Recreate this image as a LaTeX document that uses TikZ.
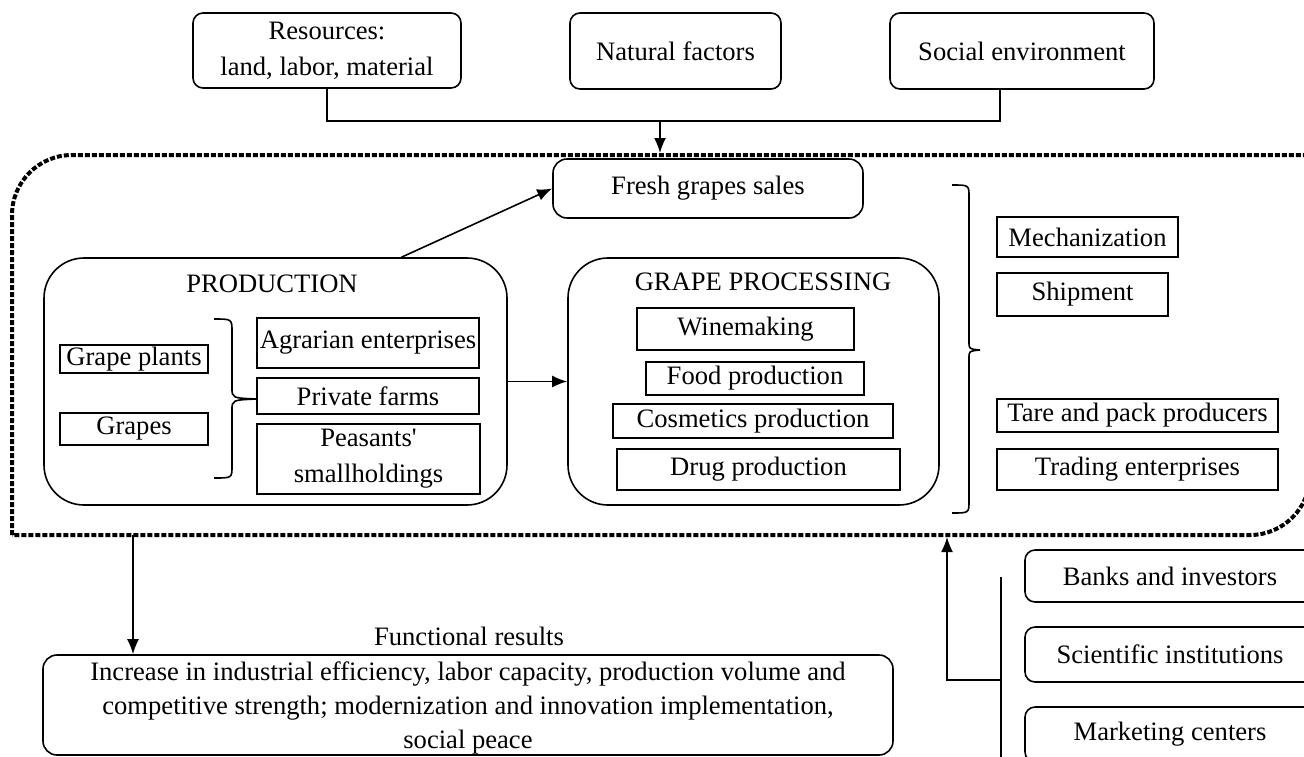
\documentclass[tikz,border=0pt]{standalone}
\usepackage{fontspec}
\setmainfont{Liberation Serif}
\usetikzlibrary{arrows.meta,calc,positioning}

\begin{document}
\begin{tikzpicture}[x=0.5pt, y=-0.5pt, >={Latex[length=7.5pt,width=6pt]},
    font=\fontsize{13.3pt}{18pt}\selectfont, line width=0.8pt,
    rbox/.style={draw, rounded corners=5pt, inner sep=0pt, align=center},
    sbox/.style={draw, inner sep=0pt, align=center},
    bigbox/.style={draw, rounded corners=20pt, inner sep=0pt},
    boundary/.style={line width=2pt, dash pattern=on 2.5pt off 1pt}]

\useasboundingbox (0,0) rectangle (1304,756);
\clip (0,0) rectangle (1304,756);

% ==================== FACTORS (top row) ====================
\node[rbox, minimum width=134pt, minimum height=37.5pt] (res) at (327,50.5) {Resources:\\land, labor, material};
\node[rbox, minimum width=105.5pt, minimum height=38pt] (nat) at (675.5,51) {Natural factors};
\node[rbox, minimum width=132pt, minimum height=38pt] (soc) at (1022,51) {Social environment};

\coordinate (junction) at (660,121);
\coordinate (entry) at (660,153);
\draw (res.south) |- (junction) -| ([xshift=-11pt]soc.south);
\draw[->] (junction) -- (entry);

% ==================== CLUSTER (dotted frame) ====================
\draw[boundary] (12,535) -- (12,300) [rounded corners=30pt] -- (12,155) -- (700,155)
    [sharp corners] -- (1310,155) -- (1310,300) [rounded corners=30pt] -- (1310,535) -- (900,535)
    [sharp corners] -- cycle;

% Fresh grapes
\node[rbox, rounded corners=7pt, minimum width=155pt, minimum height=29.5pt] (fresh) at (708,188.5) {Fresh grapes sales};

% Production
\node[bigbox, minimum width=231.5pt, minimum height=123.5pt] (prod) at (275.5,381.5) {};
\node (prodtitle) at (272,284) {PRODUCTION};
\node[sbox, minimum width=74pt, minimum height=14pt] (plants) at (134,359) {Grape plants};
\node[sbox, minimum width=74pt, minimum height=16pt] (grapes) at (134,429) {Grapes};
\node[sbox, minimum width=111pt, minimum height=25pt] (agr) at (368,343) {Agrarian enterprises};
\node[sbox, minimum width=111pt, minimum height=18pt] (priv) at (368,396) {Private farms};
\node[sbox, minimum width=111.5pt, minimum height=35pt] (peas) at (368.5,459) {Peasants\textquotesingle\\smallholdings};

% brace plants -> farms
\draw (214,319) .. controls (232,319) .. (232,332) -- (232,388) .. controls (232,398) .. (257,399);
\draw (257,399) .. controls (232,400) .. (232,410) -- (232,466) .. controls (232,478) .. (214,478);

% Grape processing
\node[bigbox, minimum width=185.5pt, minimum height=123.5pt] (proc) at (753.5,381.5) {};
\node (proctitle) at (763,282) {GRAPE PROCESSING};
\node[sbox, minimum width=108.5pt, minimum height=21pt] (wine) at (745.5,329) {Winemaking};
\node[sbox, minimum width=109pt, minimum height=16.5pt] (food) at (755,378.5) {Food production};
\node[sbox, minimum width=140pt, minimum height=17pt] (cosm) at (753,421) {Cosmetics production};
\node[sbox, minimum width=141.5pt, minimum height=20.5pt] (drug) at (758.5,469.5) {Drug production};

\draw[->] (prod) -- (proc);
\draw[->] ($(prod.north)+(126,0)$) -- (fresh.west);

% brace -> infrastructure
\draw (952,185) .. controls (969,185) .. (969,197) -- (969,342) .. controls (969,349) .. (980,350)
    .. controls (969,351) .. (969,358) -- (969,501) .. controls (969,513) .. (952,513);

% Infrastructure
\node[sbox, minimum width=90.5pt, minimum height=20pt] (mech) at (1087.5,237) {Mechanization};
\node[sbox, minimum width=85.5pt, minimum height=21.5pt] (ship) at (1082.5,294.5) {Shipment};
\node[sbox, minimum width=140.5pt, minimum height=16.5pt] (tare) at (1137.5,415.5) {Tare and pack producers};
\node[sbox, minimum width=140.5pt, minimum height=20.5pt] (trad) at (1137.5,469.5) {Trading enterprises};

% ==================== RESULTS (bottom left) ====================
\coordinate (outlet) at (133,535);
\node (funclab) at (469,636) {Functional results};
\node[rbox, rounded corners=7pt, minimum width=425pt, minimum height=50pt] (func) at (468,705) {};
\node[align=center, inner sep=0pt, font=\fontsize{13.3pt}{17pt}\selectfont] (functext) at (468,708)
    {Increase in industrial efficiency, labor capacity, production volume and\\
     competitive strength; modernization and innovation implementation,\\
     social peace};
\draw[->] (outlet) -- (outlet |- func.north);

% ==================== SUPPORT (bottom right) ====================
\node[rbox, minimum width=145pt, minimum height=26pt] (banks) at (1170,576) {Banks and investors};
\node[rbox, minimum width=145pt, minimum height=27.5pt] (sci) at (1170,654.5) {Scientific institutions};
\node[rbox, minimum width=145pt, minimum height=27.5pt] (mark) at (1170,734.5) {Marketing centers};

\coordinate (railtop) at (1001,577);
\coordinate (railbot) at (1001,760);
\coordinate (railmid) at (1001,680);
\coordinate (inlet) at (947,537);
\draw (railtop) -- (railbot);
\draw[->] (railmid) -| (inlet);

\end{tikzpicture}
\end{document}
